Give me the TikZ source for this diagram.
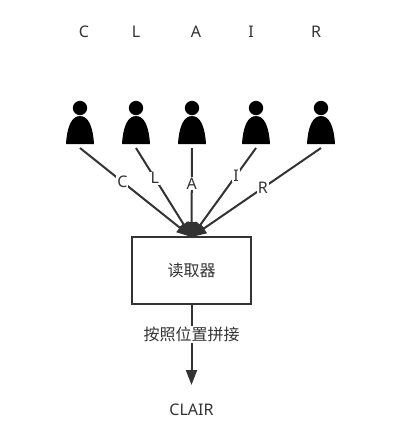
\documentclass[tikz,border=0pt]{standalone}
\usepackage{fontspec}
\setmainfont{Noto Sans}
\newfontfamily\cjkfont{Noto Sans CJK SC}
\usetikzlibrary{arrows.meta}
\definecolor{ink}{HTML}{333333}
\tikzset{
  persona/.pic={
    \fill[black] (0,8) circle (7.2);
    \fill[black] (-14,44) .. controls (-13,28) and (-9,16) .. (0,16) .. controls (9,16) and (13,28) .. (14,44) -- cycle;
  },
  wire/.style={draw=ink,line width=2pt},
  flow/.style={wire,-{Triangle[length=15pt,width=11pt,fill=ink]}},
  wirelabel/.style={fill=white,text=ink,font=\fontsize{16}{18}\selectfont,inner sep=1pt},
  toplabel/.style={text=ink,font=\fontsize{16}{18}\selectfont,inner sep=0pt},
  readerbox/.style={draw=ink,line width=2pt,minimum width=119pt,minimum height=67pt,inner sep=0pt,text=ink,font=\cjkfont\fontsize{16}{18}\selectfont},
}
\begin{document}
\begin{tikzpicture}[x=1pt,y=-1pt]
\useasboundingbox (0,0) rectangle (409,445);
\fill[white] (0,0) rectangle (409,445);
\node[toplabel] (t1) at (84,32) {C};
\node[toplabel] (t2) at (136,32) {L};
\node[toplabel] (t3) at (196,32) {A};
\node[toplabel] (t4) at (251,32) {I};
\node[toplabel] (t5) at (316,32) {R};
\pic at (80,100) {persona};
\pic at (136,100) {persona};
\pic at (192,100) {persona};
\pic at (256,100) {persona};
\pic at (321,100) {persona};
\coordinate (p1) at (80,148);
\coordinate (p2) at (136,148);
\coordinate (p3) at (192,148);
\coordinate (p4) at (256,148);
\coordinate (p5) at (321,148);
\node[readerbox] (reader) at (191.5,270.5) {读取器};
\coordinate (tip) at (191.5,237);
\coordinate (outend) at (191.5,385);
\draw[flow] (p1) -- node[wirelabel,pos=.38] (l1) {C} (tip);
\draw[flow] (p2) -- node[wirelabel,pos=.34] (l2) {L} (tip);
\draw[flow] (p3) -- node[wirelabel,pos=.40] (l3) {A} (tip);
\draw[flow] (p4) -- node[wirelabel,pos=.31] (l4) {I} (tip);
\draw[flow] (p5) -- node[wirelabel,pos=.45] (l5) {R} (tip);
\draw[flow] (reader.south) -- node[wirelabel,pos=.37,font=\cjkfont\fontsize{16}{18}\selectfont] (merge) {按照位置拼接} (outend);
\node[toplabel] (result) at (191.5,410) {CLAIR};
\end{tikzpicture}
\end{document}
